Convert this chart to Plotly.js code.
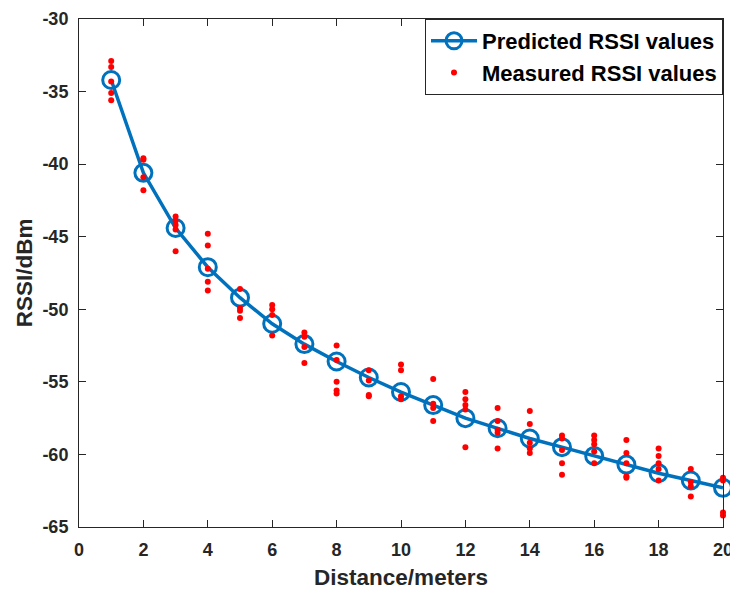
<!DOCTYPE html>
<html>
<head>
<meta charset="utf-8">
<script src="https://cdn.plot.ly/plotly-3.0.1.min.js"></script>
<style>html,body{margin:0;padding:0;background:#fff;}#chart{width:730px;height:590px;}</style>
</head>
<body>
<div id="chart"></div>
<script>
// Distances (meters)
var distances = [1,2,3,4,5,6,7,8,9,10,11,12,13,14,15,16,17,18,19,20];
// Predicted RSSI (dBm)
var predictedRSSI = [-34.2,-40.6,-44.4,-47.1,-49.2,-51.0,-52.4,-53.6,-54.7,-55.7,-56.6,-57.5,-58.2,-58.9,-59.5,-60.1,-60.7,-61.3,-61.8,-62.3];
// Measured RSSI samples at each distance (dBm)
var measuredRSSI = [
  [-32.9,-33.3,-34.3,-35.1,-35.6],
  [-39.6,-39.7,-40.9,-41.8],
  [-43.6,-43.9,-44.2,-44.5,-46.0],
  [-44.8,-45.6,-47.2,-48.1,-48.7],
  [-48.6,-49.9,-50.1,-50.6],
  [-49.7,-50.0,-50.4,-51.8],
  [-51.6,-51.9,-52.6,-53.7],
  [-52.5,-53.5,-55.0,-55.6,-55.8],
  [-54.2,-54.9,-55.9,-56.0],
  [-53.8,-54.2,-56.0,-56.2],
  [-54.8,-56.5,-56.8,-57.7],
  [-55.7,-56.2,-56.6,-56.9,-59.5],
  [-56.8,-57.7,-58.3,-58.5,-59.6],
  [-57.0,-57.9,-59.2,-59.6,-59.9],
  [-58.7,-58.9,-59.7,-60.6,-61.4],
  [-58.7,-59.0,-59.3,-59.8,-60.6],
  [-59.0,-59.9,-60.6,-61.5,-61.6],
  [-59.6,-60.1,-60.6,-61.0,-61.8],
  [-61.0,-61.9,-62.2,-62.9],
  [-61.6,-61.8,-64.0,-64.2]
];
// Tick values and labels (hyphen minus as in the original)
var xTickVals = [0,2,4,6,8,10,12,14,16,18,20];
var xTickText = ['0','2','4','6','8','10','12','14','16','18','20'];
var yTickVals = [-65,-60,-55,-50,-45,-40,-35,-30];
var yTickText = ['-65','-60','-55','-50','-45','-40','-35','-30'];
var seriesNames = ['Predicted RSSI values','Measured RSSI values'];
var xTitle = 'Distance/meters';
var yTitle = 'RSSI/dBm';

var mx = [], my = [];
measuredRSSI.forEach(function(arr, i){
  arr.forEach(function(v){ mx.push(distances[i]); my.push(v); });
});

var fontFam = '"Liberation Sans", Arial, Helvetica, sans-serif';
var axisCol = '#262626';

var traces = [
  {
    x: distances, y: predictedRSSI, name: seriesNames[0],
    type: 'scatter', mode: 'lines+markers', cliponaxis: false,
    line: {color: '#0072BD', width: 3.5},
    marker: {symbol: 'circle-open', size: 17, color: '#0072BD', line: {width: 3, color: '#0072BD'}}
  },
  {
    x: mx, y: my, name: seriesNames[1],
    type: 'scatter', mode: 'markers', cliponaxis: false,
    marker: {symbol: 'circle', size: 6, color: '#FF0000'}
  }
];

var axisCommon = {
  showgrid: false, zeroline: false, showline: true, linecolor: axisCol, linewidth: 1,
  mirror: 'ticks', ticks: 'inside', ticklen: 7, tickwidth: 1, tickcolor: axisCol,
  tickmode: 'array', ticklabeloverflow: 'allow',
  tickfont: {family: fontFam, size: 18, color: axisCol, weight: 'bold'}
};

var layout = {
  width: 730, height: 590,
  margin: {l: 79, r: 7, t: 19, b: 63},
  paper_bgcolor: '#fff', plot_bgcolor: '#fff',
  font: {family: fontFam, color: axisCol},
  showlegend: true,
  xaxis: Object.assign({}, axisCommon, {
    range: [0, 20], tickvals: xTickVals, ticktext: xTickText, ticklabelstandoff: 6,
    title: {text: xTitle, font: {family: fontFam, size: 22.5, color: axisCol, weight: 'bold'}, standoff: 13}
  }),
  yaxis: Object.assign({}, axisCommon, {
    range: [-65, -30], tickvals: yTickVals, ticktext: yTickText, ticklabelstandoff: 6,
    title: {text: yTitle, font: {family: fontFam, size: 22.5, color: axisCol, weight: 'bold'}, standoff: 3}
  }),
  legend: {
    x: 1, y: 1, xanchor: 'right', yanchor: 'top',
    bgcolor: '#fff', bordercolor: axisCol, borderwidth: 1,
    font: {family: fontFam, size: 22, color: '#000', weight: 'bold'},
    itemwidth: 46, tracegroupgap: 0
  }
};

Plotly.newPlot('chart', traces, layout, {displayModeBar: false, staticPlot: true});
</script>
</body>
</html>
